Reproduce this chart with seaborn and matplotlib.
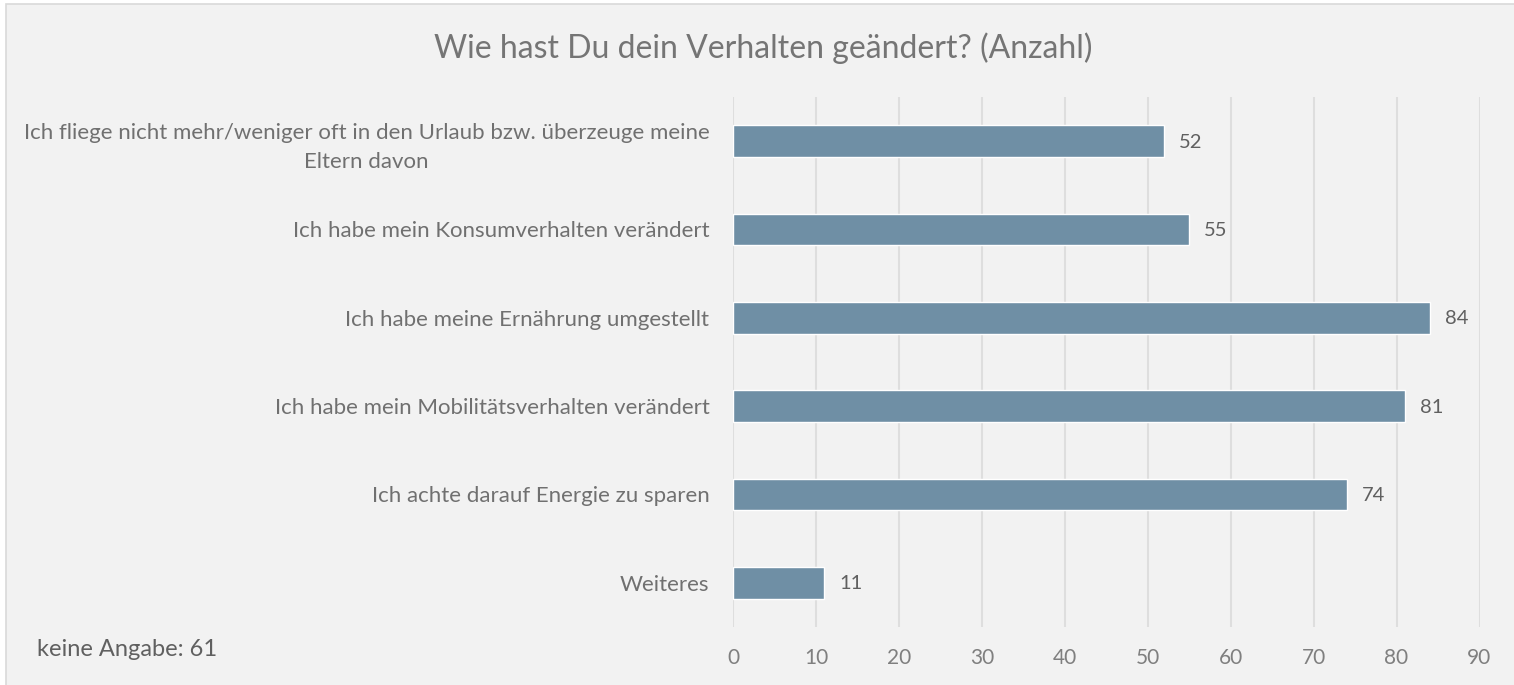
import numpy as np
import pandas as pd
import matplotlib
matplotlib.use("Agg")
import matplotlib.pyplot as plt
import seaborn as sns
from matplotlib.patches import Rectangle

# data
categories = [
    "Ich fliege nicht mehr/weniger oft in den Urlaub bzw. überzeuge meine\nEltern davon",
    "Ich habe mein Konsumverhalten verändert",
    "Ich habe meine Ernährung umgestellt",
    "Ich habe mein Mobilitätsverhalten verändert",
    "Ich achte darauf Energie zu sparen",
    "Weiteres",
]
counts = [52, 55, 84, 81, 74, 11]
x_ticks = [0, 10, 20, 30, 40, 50, 60, 70, 80, 90]
title = "Wie hast Du dein Verhalten geändert? (Anzahl)"
note = "keine Angabe: 61"

df = pd.DataFrame({"Kategorie": categories, "Anzahl": counts})

sns.set_style("white")
plt.rcParams["font.family"] = ["Lato", "DejaVu Sans"]

W, H = 1514, 685
fig = plt.figure(figsize=(W / 100, H / 100), dpi=100, facecolor="white")

# chart background with thin border (top/left visible)
fig.patches.append(Rectangle((6 / W, -0.05), 1.1, 1.05 - 4 / H, transform=fig.transFigure,
                             facecolor="#f2f2f2", edgecolor="#d9d9d9", linewidth=1.2, zorder=-1))

ax = fig.add_axes([733 / W, 1 - 627 / H, (1479.5 - 733) / W, (627 - 97) / H])
ax.set_facecolor("none")

sns.barplot(data=df, x="Anzahl", y="Kategorie", ax=ax, color="#6f8fa5",
            width=0.36, saturation=1, orient="h", zorder=3)

ax.set_xlim(0, 90)
ax.set_ylim(5.5, -0.5)
ax.set_xticks(x_ticks)
ax.set_xticklabels([str(t) for t in x_ticks])
ax.set_yticks(range(len(categories)))
ax.set_yticklabels(categories, multialignment="center", linespacing=1.55)
ax.grid(axis="x", color="#dedede", linewidth=1.5, zorder=0)
ax.grid(axis="y", visible=False)
for s in ax.spines.values():
    s.set_visible(False)
ax.tick_params(axis="both", length=0)
ax.tick_params(axis="x", labelsize=15, colors="#7f7f7f", pad=15)
ax.tick_params(axis="y", labelsize=16, colors="#707070", pad=17)
ax.set_xlabel("")
ax.set_ylabel("")

for i, v in enumerate(counts):
    ax.annotate(str(v), xy=(v, i), xytext=(15, -1), textcoords="offset pixels",
                ha="left", va="center", fontsize=14.5, color="#606060")

fig.text(763 / W, 1 - 48 / H, title, ha="center", va="center", fontsize=23, color="#757575")
fig.text(37 / W, 1 - 649 / H, note, ha="left", va="center", fontsize=17, color="#606060")

fig.savefig("out.png", dpi=100, facecolor=fig.get_facecolor())
